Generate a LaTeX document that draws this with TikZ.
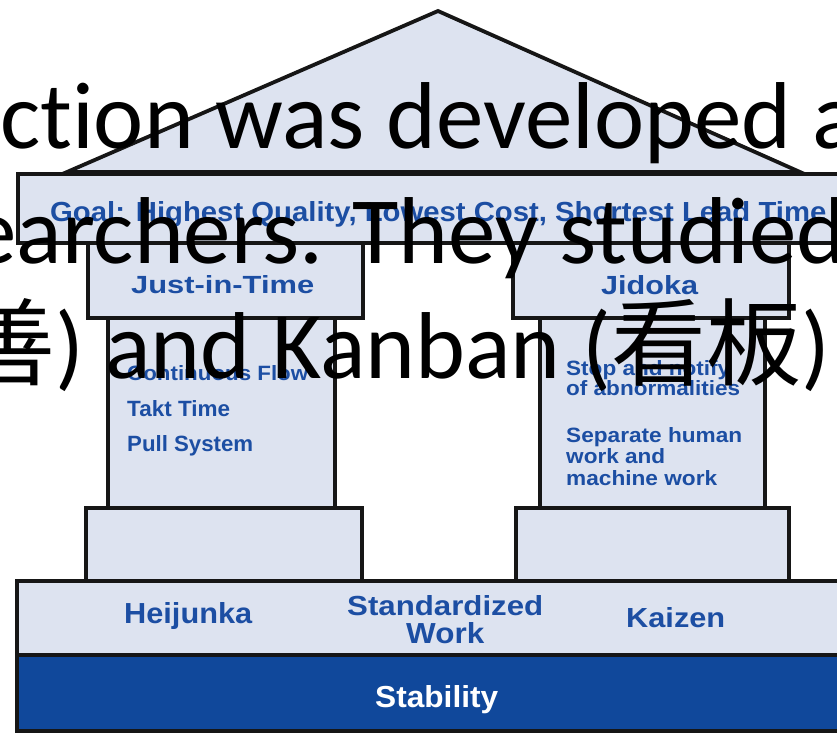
\documentclass[tikz,border=0pt]{standalone}
\usepackage{fontspec}
\setmainfont{Liberation Sans}
\newfontfamily\ovfont[Ligatures=NoCommon]{Carlito}
\newfontfamily\cjkfont{Noto Sans CJK JP}
\usepackage{graphicx}
\definecolor{housefill}{RGB}{221,227,240}
\definecolor{labelblue}{RGB}{28,78,163}
\definecolor{stabblue}{RGB}{16,72,155}
\definecolor{edgecol}{RGB}{22,22,22}
\newcommand\fitt[3]{\resizebox{#1pt}{#2pt}{\bfseries #3}}
\begin{document}
\begin{tikzpicture}[x=1pt,y=-1pt,
  part/.style={fill=housefill,draw=edgecol,line width=3.8pt,line join=miter},
  lbl/.style={inner sep=0pt,anchor=base west,text=labelblue},
  ov/.style={inner sep=0pt,anchor=base west,text=black,font=\ovfont\fontsize{95}{114}\selectfont}]
\useasboundingbox (0,0) rectangle (837,732);
\clip (0,0) rectangle (837,732);
\fill[white] (0,0) rectangle (837,732);
% roof
\draw[part] (67,172) -- (438,11) -- (800,172) -- cycle;
% goal band
\draw[part] (18,174) rectangle (860,243);
% shafts
\draw[part] (108,318) rectangle (335,508);
\draw[part] (540,318) rectangle (765,508);
% capitals
\draw[part] (88,243) rectangle (363,318);
\draw[part] (513,243) rectangle (789,318);
% plinths
\draw[part] (86,508) rectangle (362,581);
\draw[part] (516,508) rectangle (789,581);
% base bands
\draw[part] (17,581) rectangle (860,655);
\draw[fill=stabblue,draw=edgecol,line width=3.8pt] (17,655) rectangle (860,731);
% labels
\node[lbl] (goal) at (50,221) {\fitt{776}{20}{Goal: Highest Quality, Lowest Cost, Shortest Lead Time}};
\node[lbl] (jit) at (131,293) {\fitt{183}{18}{Just-in-Time}};
\node[lbl] (jid) at (601,294) {\fitt{97}{19}{Jidoka}};
\node[lbl] (cf) at (127,380) {\fitt{181}{15}{Continuous Flow}};
\node[lbl] (takt) at (127,416) {\fitt{103}{16}{Takt Time}};
\node[lbl] (pull) at (127,451) {\fitt{126}{16}{Pull System}};
\node[lbl] (stop) at (566,375) {\fitt{164}{15}{Stop and notify}};
\node[lbl] (abn) at (566,395) {\fitt{174}{15}{of abnormalities}};
\node[lbl] (sep) at (566,442) {\fitt{176}{15}{Separate human}};
\node[lbl] (wa) at (566,463) {\fitt{99}{15}{work and}};
\node[lbl] (mw) at (566,485) {\fitt{151}{15}{machine work}};
\node[lbl] (hei) at (124,623) {\fitt{128}{21}{Heijunka}};
\node[lbl] (std) at (347,615) {\fitt{196}{20}{Standardized}};
\node[lbl] (work) at (406,643) {\fitt{78}{21}{Work}};
\node[lbl] (kai) at (626,627) {\fitt{99}{20}{Kaizen}};
\node[lbl,text=white] (stab) at (375,707) {\fitt{123}{22}{Stability}};
% overlay text
\node[ov] (l1) at (0,148) {ction was developed a};
\node[ov] (l2) at (-31,263) {earchers. They studied};
\node[ov] (l3) at (-40,378) {{\cjkfont 善}) and Kanban ({\cjkfont 看板})};
\end{tikzpicture}
\end{document}
